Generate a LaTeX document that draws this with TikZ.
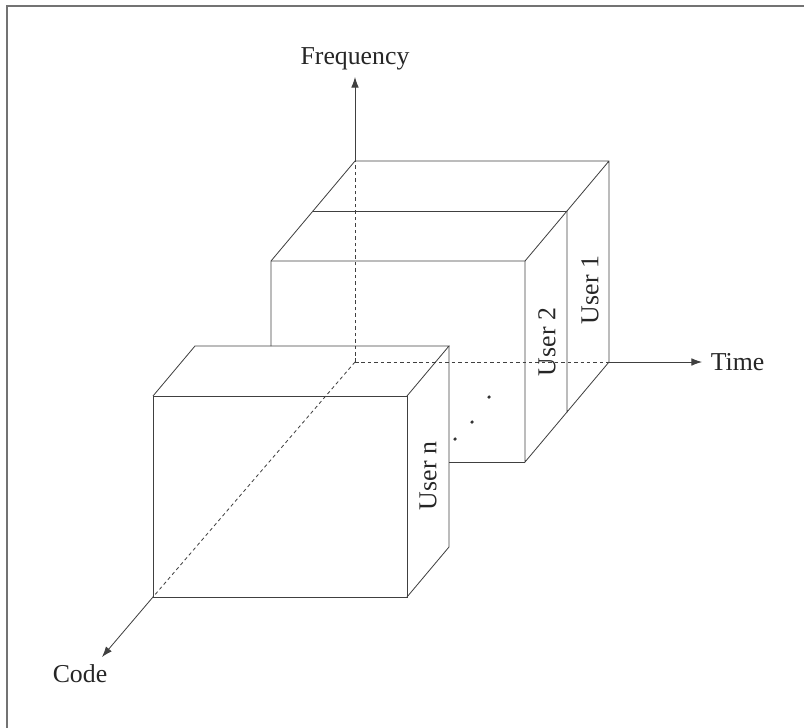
\documentclass[tikz,border=0pt]{standalone}
\usepackage{fontspec}
\setmainfont{Liberation Serif}
\usetikzlibrary{arrows.meta, positioning}

\begin{document}
\begin{tikzpicture}[x=0.03cm, y=-0.03cm,
  box/.style={draw=black!75, line width=0.7pt},
  hidden/.style={box, dash pattern=on 3pt off 2.5pt},
  axis/.style={box, -{Latex[length=9pt, width=6.5pt]}},
  txt/.style={font=\fontsize{22}{26}\selectfont, text=black!85},
  user/.style={txt, rotate=90}]
  \useasboundingbox (0,0) rectangle (804,728);
  \draw[black!55, line width=1pt] (7,728) -- (7,6) -- (804,6);

  % axes
  \coordinate (o) at (355,362);
  \coordinate (f) at (355,161);
  \coordinate (t) at (609,362);
  \coordinate (c) at (153,597);
  \coordinate (fend) at (355,77);
  \coordinate (tend) at (702,362);
  \coordinate (cend) at (102,657);

  % user 1
  \coordinate (b1) at (609,161);
  \coordinate (a1) at (313,211);
  \coordinate (a2) at (567,211);
  \coordinate (a3) at (567,412);
  \draw[box] (a1) -- (f) -- (b1) -- (t) -- (a3) -- (a2) -- (b1);
  \draw[box] (a1) -- (a2);

  % user 2
  \coordinate (p1) at (271,346);
  \coordinate (p2) at (271,261);
  \coordinate (p3) at (525,261);
  \coordinate (p4) at (525,462);
  \coordinate (p5) at (449,462);
  \draw[box] (p1) -- (p2) -- (a1);
  \draw[box] (p2) -- (p3) -- (a2);
  \draw[box] (p3) -- (p4) -- (a3);
  \draw[box] (p4) -- (p5);

  % user n
  \coordinate (n1) at (153,396);
  \coordinate (n2) at (407,396);
  \coordinate (n3) at (407,597);
  \coordinate (m1) at (195,346);
  \coordinate (m2) at (449,346);
  \coordinate (m3) at (449,547);
  \draw[box] (c) rectangle (n2);
  \draw[box] (n1) -- (m1) -- (m2) -- (n2);
  \draw[box] (m2) -- (m3) -- (n3);

  \draw[hidden] (o) -- (f);
  \draw[hidden] (o) -- (t);
  \draw[hidden] (o) -- (c);
  \draw[axis] (f) -- (fend);
  \draw[axis] (t) -- (tend);
  \draw[axis] (c) -- (cend);

  \node[txt, above=2pt of fend] (freq) {Frequency};
  \node[txt, right=4pt of tend] (time) {Time};
  \node[txt, below=3pt of cend, xshift=-0.66cm] (code) {Code};
  \node[user] (u1) at (590,290) {User 1};
  \node[user] (u2) at (547,342) {User 2};
  \node[user] (un) at (428,476) {User n};

  \foreach \p in {(455,439), (472,422), (489,397)}
    \fill[black!80] \p circle (1.5pt);
\end{tikzpicture}
\end{document}
